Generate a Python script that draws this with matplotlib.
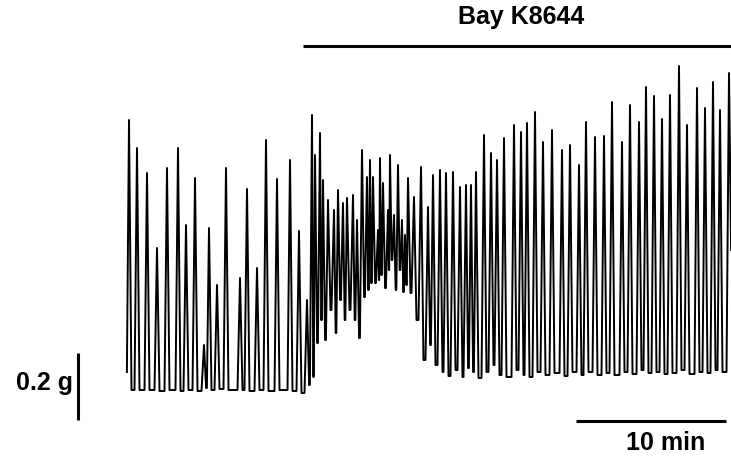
import numpy as np
import matplotlib.pyplot as plt

# Isometric tension recording. Each contraction is given by its peak
# (time in s, force in mg) and the resting force reached after it.
start_f = 54

control_peak_t = [8, 40, 80, 120, 160, 204, 236, 272, 308, 328, 360, 396,
                  452, 480, 520, 556, 600, 652, 688]
control_peak_f = [810, 726, 651, 426, 666, 726, 495, 636, 135, 486, 315, 666,
                  336, 603, 366, 750, 633, 690, 477]
control_rest_f = [0, 0, 0, -3, 0, -3, 0, -3, 6, 0, 3, 0,
                  0, -3, 0, -3, 0, -3, -9]

onset_peak_t = [720, 740, 752, 772, 784, 804, 828, 844, 864, 880, 904, 920,
                940, 960, 972, 984, 1004, 1012, 1024, 1044, 1052, 1068, 1084,
                1100, 1112, 1124, 1148, 1176, 1204, 1224]
onset_peak_f = [270, 825, 705, 771, 630, 570, 540, 600, 561, 576, 585, 510,
                720, 639, 690, 639, 480, 696, 621, 540, 705, 525, 675,
                510, 465, 636, 579, 669, 549, 645]
onset_rest_f = [15, 39, 141, 210, 150, 240, 171, 270, 210, 240, 210, 156,
                279, 300, 321, 321, 330, 345, 306, 360, 390, 300, 360,
                294, 315, 291, 210, 90, 135, 75]

steady_peak_t = [1252, 1276, 1304, 1332, 1356, 1376, 1396, 1428, 1456, 1480,
                 1508, 1548, 1576, 1600, 1632, 1664, 1700, 1740, 1772, 1808,
                 1836, 1872, 1908, 1940, 1980, 2012, 2048, 2076, 2108, 2140,
                 2172, 2208, 2240, 2280, 2312, 2344, 2372, 2408]
steady_peak_f = [660, 651, 654, 609, 615, 615, 654, 765, 711, 690,
                 756, 795, 774, 801, 834, 744, 780, 720, 735, 675,
                 804, 759, 762, 864, 744, 855, 804, 909, 882, 813,
                 885, 972, 795, 906, 846, 924, 840, 951]
steady_rest_f = [54, 42, 60, 39, 66, 54, 36, 54, 75, 45,
                 39, 60, 45, 39, 54, 45, 51, 42, 54, 45,
                 54, 45, 51, 45, 54, 48, 60, 51, 54, 48,
                 51, 60, 48, 54, 51, 60, 54, 420]

drug_label = "Bay K8644"
drug_start_s = 704
time_bar_min = 10
force_bar_g = 0.2

peak_t = np.array(control_peak_t + onset_peak_t + steady_peak_t, float)
peak_f = np.array(control_peak_f + onset_peak_f + steady_peak_f, float)
rest_f = np.array(control_rest_f + onset_rest_f + steady_rest_f, float)

# build the trace: steep rise to each peak, steep fall back to rest
twitch_s = 10.0
gaps = np.diff(peak_t)
rise = np.minimum(twitch_s, 0.42 * np.concatenate([[20.0], gaps]))
fall = np.minimum(twitch_s, 0.42 * np.concatenate([gaps, [20.0]]))
xs, ys = [], []
before = np.concatenate([[start_f], rest_f[:-1]])
for tp, fp, r, fl, f0, f1 in zip(peak_t, peak_f, rise, fall, before, rest_f):
    xs += [tp - r, tp, tp + fl]
    ys += [f0, fp, f1]
xs = np.array(xs) / 60.0
ys = np.array(ys) / 1000.0

fig = plt.figure(figsize=(7.31, 4.62), dpi=100)
ax = fig.add_axes([0, 0, 1, 1])
ax.plot(xs, ys, color="black", lw=1.4, solid_joinstyle="round")

x_end = 604 * 4 / 60.0
ax.set_xlim(-127 * 4 / 60.0, x_end)
ax.set_ylim(-0.216, 1.17)
ax.axis("off")

font = dict(fontsize=18, fontweight="bold", family="Liberation Sans")

# drug application bar
ax.plot([drug_start_s / 60.0, x_end], [1.032, 1.032], color="black", lw=2.2,
        solid_capstyle="butt")
ax.text(26.3, 1.118, drug_label, ha="center", va="center", **font)

# calibration bars
ax.plot([-3.27, -3.27], [-0.09, -0.09 + force_bar_g], color="black", lw=2.2,
        solid_capstyle="butt")
ax.text(-3.6, 0.02, "0.2 g", ha="right", va="center", **font)
ax.plot([29.93, 29.93 + time_bar_min], [-0.093, -0.093], color="black",
        lw=2.2, solid_capstyle="butt")
ax.text(35.9, -0.159, "10 min", ha="center", va="center", **font)

fig.savefig("out.png", dpi=100)
